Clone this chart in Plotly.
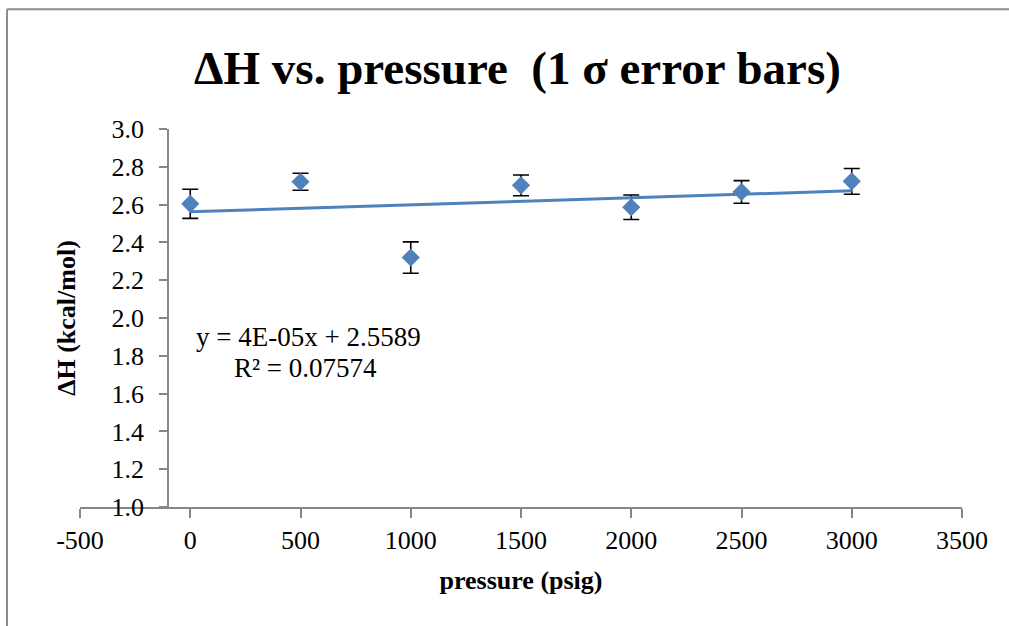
import numpy as np
import plotly.graph_objects as go

# ---- data ----
pressure = [0, 500, 1000, 1500, 2000, 2500, 3000]           # psig
delta_h = [2.604, 2.721, 2.320, 2.702, 2.586, 2.667, 2.723]  # kcal/mol
sigma = [0.077, 0.045, 0.083, 0.055, 0.065, 0.060, 0.068]    # 1 sigma

x_ticks = [-500, 0, 500, 1000, 1500, 2000, 2500, 3000, 3500]
y_ticks = [1.0, 1.2, 1.4, 1.6, 1.8, 2.0, 2.2, 2.4, 2.6, 2.8, 3.0]

eq_text = "y = 4E-05x + 2.5589"
r2_text = "R² = 0.07574"

# linear trendline (least squares) from the data
slope, intercept = np.polyfit(pressure, delta_h, 1)
trend_x = [pressure[0], pressure[-1]]
trend_y = [intercept + slope * v for v in trend_x]

BLUE = "#4F81BD"
AXIS = "#868686"
FONT = "Liberation Serif"

fig = go.Figure()
fig.add_trace(go.Scatter(
    x=pressure, y=delta_h, mode="markers",
    marker=dict(symbol="diamond", size=14, color=BLUE),
    error_y=dict(type="data", array=sigma, visible=True,
                 color="black", thickness=1.6, width=8),
    showlegend=False, hoverinfo="x+y",
))
fig.add_trace(go.Scatter(
    x=trend_x, y=trend_y, mode="lines",
    line=dict(color=BLUE, width=3),
    showlegend=False, hoverinfo="skip",
))

W, H = 1009, 626
L, R, T, B = 80, 47, 129, 118.5
pw, ph = W - L - R, H - T - B

def px_x(p):
    return (p - L) / pw

def px_y(p):
    return (H - B - p) / ph

fig.update_layout(
    width=W, height=H,
    margin=dict(l=L, r=R, t=T, b=B, pad=0),
    paper_bgcolor="white", plot_bgcolor="white",
    font=dict(family=FONT, color="black", size=26),
    title=dict(
        text="<b>ΔH vs. pressure  (1 σ error bars)</b>",
        font=dict(family=FONT, size=47, color="black"),
        x=517.5 / W, xanchor="center", xref="container",
        y=1 - 68 / H, yanchor="middle", yref="container",
    ),
    xaxis=dict(
        range=[-500, 3500], tickvals=x_ticks, ticktext=[str(v) for v in x_ticks],
        showgrid=False, zeroline=False,
        showline=True, linecolor=AXIS, linewidth=2,
        ticks="outside", ticklen=9, tickwidth=2, tickcolor=AXIS,
        tickfont=dict(family=FONT, size=26, color="black"),
        title=dict(text="<b>pressure (psig)</b>",
                   font=dict(family=FONT, size=26, color="black"), standoff=17),
        anchor="y", fixedrange=True,
    ),
    yaxis=dict(
        range=[1.0, 3.0], tickvals=y_ticks, ticktext=[f"{v:.1f}" for v in y_ticks],
        showgrid=False, zeroline=False,
        showline=True, linecolor=AXIS, linewidth=2,
        ticks="outside", ticklen=8, tickwidth=2, tickcolor=AXIS,
        ticklabelstandoff=10,
        tickfont=dict(family=FONT, size=26, color="black"),
        title=dict(text="<b>ΔH (kcal/mol)</b>",
                   font=dict(family=FONT, size=26, color="black"), standoff=27),
        anchor="free", position=0.1, fixedrange=True,
    ),
    annotations=[
        dict(text=eq_text, x=px_x(308), y=px_y(337), xref="paper", yref="paper",
             showarrow=False, xanchor="center", yanchor="middle",
             font=dict(family=FONT, size=27, color="black")),
        dict(text=r2_text, x=px_x(305), y=px_y(368), xref="paper", yref="paper",
             showarrow=False, xanchor="center", yanchor="middle",
             font=dict(family=FONT, size=27, color="black")),
    ],
    shapes=[
        dict(type="line", xref="paper", yref="paper",
             x0=px_x(7), x1=px_x(W + 5), y0=px_y(9), y1=px_y(9),
             line=dict(color="#8C8C8C", width=2)),
        dict(type="line", xref="paper", yref="paper",
             x0=px_x(7), x1=px_x(7), y0=px_y(9), y1=px_y(H + 5),
             line=dict(color="#8C8C8C", width=2)),
    ],
)

fig.write_html("out.html")
